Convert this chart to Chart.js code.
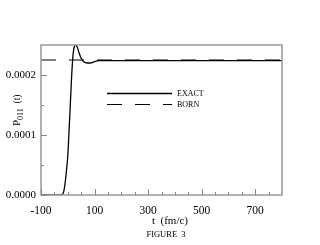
<!DOCTYPE html>
<html>
<head>
<meta charset="utf-8">
<script src="https://cdn.jsdelivr.net/npm/chart.js@4.4.1/dist/chart.umd.min.js"></script>
<style>
    html, body { margin: 0; padding: 0; background: #fff; }
    #wrap { width: 320px; height: 245px; }
</style>
</head>
<body>
<div id="wrap"><canvas id="chart"></canvas></div>
<script>
/* ---------------- DATA ---------------- */
const exactT = [-100, -40, -25, -20, -15, -10, -5, 0, 4, 8, 12, 15, 20, 25, 30, 36, 42, 50, 60, 72, 85, 98, 115, 150, 250, 400, 600, 800];
const exactP = [0, 0, 0, 0.000001, 0.000006, 0.00002, 0.00004, 0.000065, 0.0001, 0.000137, 0.000175, 0.000203, 0.000235, 0.000248, 0.00025, 0.000246, 0.000237, 0.000228, 0.000222, 0.00022, 0.00022, 0.000222, 0.000224, 0.000224, 0.000224, 0.000224, 0.000224, 0.000224];

const bornT = [-100, 800];
const bornP = [0.000225, 0.000225];

const xLabels = [-100, 100, 300, 500, 700];
const xMinor = [-50, 0, 50, 150, 200, 250, 350, 400, 450, 550, 600, 650, 750];
const yLabels = [0, 0.0001, 0.0002];
const yMinor = [0.00005, 0.00015];

const serif = "'Liberation Serif', 'DejaVu Serif', serif";

/* ---------------- EXTRAS: frame, inward ticks, titles, legend ---------------- */
const extras = {
    id: "extras",
    afterDatasetsDraw(chart) {
        const { ctx, chartArea: a, scales: { x, y } } = chart;
        ctx.save();

        // frame
        ctx.strokeStyle = "#999";
        ctx.lineWidth = 1.5;
        ctx.strokeRect(a.left, a.top, a.right - a.left, a.bottom - a.top);

        // inward ticks
        ctx.lineWidth = 1;
        ctx.strokeStyle = "#888";
        ctx.beginPath();
        const xTick = (v, len) => {
            const px = Math.round(x.getPixelForValue(v)) + 0.5;
            ctx.moveTo(px, a.bottom); ctx.lineTo(px, a.bottom - len);
        };
        const yTick = (v, len) => {
            const py = Math.round(y.getPixelForValue(v)) + 0.5;
            ctx.moveTo(a.left, py); ctx.lineTo(a.left + len, py);
        };
        xMinor.forEach(v => xTick(v, 3));
        xLabels.forEach(v => xTick(v, 6));
        yMinor.forEach(v => yTick(v, 3));
        yLabels.forEach(v => yTick(v, 6));
        ctx.stroke();

        // legend
        const sets = chart.data.datasets;
        const lx = a.left + 66, lw = 65;
        [93.5, 104.5].forEach((ly, i) => {
            const ds = sets[i];
            ctx.strokeStyle = ds.borderColor;
            ctx.lineWidth = ds.borderWidth;
            ctx.setLineDash(ds.borderDash || []);
            ctx.beginPath();
            ctx.moveTo(lx, ly); ctx.lineTo(lx + lw, ly);
            ctx.stroke();
            ctx.setLineDash([]);
            ctx.fillStyle = "#000";
            ctx.font = "8px " + serif;
            ctx.textBaseline = "middle";
            ctx.textAlign = "left";
            ctx.fillText(ds.label, lx + lw + 5, ly + 0.5);
        });

        // x title
        ctx.fillStyle = "#000";
        ctx.textAlign = "center";
        ctx.textBaseline = "middle";
        ctx.font = "11px " + serif;
        ctx.fillText("t  (fm/c)", 170, 221);
        ctx.font = "8.5px " + serif;
        ctx.fillText("FIGURE  3", 166, 235);

        // y title with subscript
        ctx.translate(20, 126);
        ctx.rotate(-Math.PI / 2);
        ctx.textAlign = "left";
        ctx.textBaseline = "alphabetic";
        ctx.font = "11px " + serif;
        ctx.fillText("P", 0, 0);
        let w = ctx.measureText("P").width;
        ctx.font = "8px " + serif;
        ctx.fillText("011", w, 2.5);
        w += ctx.measureText("011").width;
        ctx.font = "9.5px " + serif;
        ctx.fillText("  (t)", w, 0);

        ctx.restore();
    }
};

/* ---------------- CHART ---------------- */
new Chart(document.getElementById("chart"), {
    type: "line",
    data: {
        datasets: [{
            label: "EXACT",
            data: exactT.map((t, i) => ({ x: t, y: exactP[i] })),
            borderColor: "#000",
            borderWidth: 1.3,
            pointRadius: 0,
            cubicInterpolationMode: "monotone"
        }, {
            label: "BORN",
            data: bornT.map((t, i) => ({ x: t, y: bornP[i] })),
            borderColor: "#000",
            borderWidth: 1.2,
            borderDash: [15, 13],
            pointRadius: 0
        }]
    },
    options: {
        responsive: true,
        maintainAspectRatio: false,
        animation: false,
        layout: { padding: { left: 0, top: 45, right: 38, bottom: 0 } },
        plugins: { legend: { display: false }, tooltip: { enabled: false } },
        scales: {
            x: {
                type: "linear",
                min: -100,
                max: 800,
                afterBuildTicks: s => { s.ticks = xLabels.map(v => ({ value: v })); },
                afterFit: s => { s.height = 50; },
                grid: { display: false, drawTicks: false },
                border: { display: false },
                ticks: {
                    color: "#000",
                    padding: 9,
                    maxRotation: 0,
                    font: { family: serif, size: 11.5 }
                }
            },
            y: {
                min: 0,
                max: 0.00025,
                afterBuildTicks: s => { s.ticks = yLabels.map(v => ({ value: v })); },
                afterFit: s => { s.width = 41; },
                grid: { display: false, drawTicks: false },
                border: { display: false },
                ticks: {
                    color: "#000",
                    padding: 5,
                    font: { family: serif, size: 11 },
                    callback: v => v.toFixed(4)
                }
            }
        }
    },
    plugins: [extras]
});
</script>
</body>
</html>
